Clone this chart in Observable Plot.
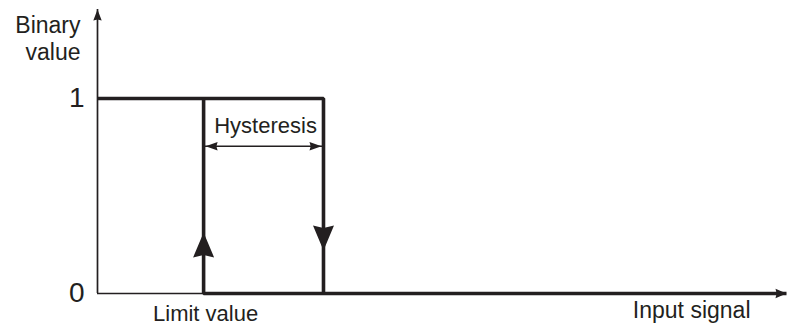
<!DOCTYPE html>
<html><head><meta charset="utf-8">
<script src="https://cdn.jsdelivr.net/npm/d3@7"></script>
<script src="https://cdn.jsdelivr.net/npm/@observablehq/plot@0.6"></script>
<style>
html,body{margin:0;padding:0;background:#fff;}
#chart{width:790px;height:329px;}
</style></head><body><div id="chart"></div>
<script>
// ---- data ----
const binaryLevels = [0, 1];
const levelLabels = ["0", "1"];
const inputMax = 10;          // end of the input-signal axis
const yMax = 1.456;           // top of the binary-value axis
const limitValue = 1.54;      // switch-on point (rising signal)
const upperValue = 3.28;      // switch-off point (falling signal)
const hysteresisLevel = 0.755;
const upArrowTip = 0.313;
const downArrowTip = 0.22;
const yTitle = "Binary\nvalue";
const xTitle = "Input signal";
const limitLabel = "Limit value";
const hysteresisLabel = "Hysteresis";

const ink = "#231f20";
const font = "'Liberation Sans', Arial, Helvetica, sans-serif";

// switching loop: upper branch (falling) and lower branch (rising)
const loop = [
  {x: 0, y: binaryLevels[1], branch: "falling"},
  {x: upperValue, y: binaryLevels[1], branch: "falling"},
  {x: upperValue, y: binaryLevels[0], branch: "falling"},
  {x: limitValue, y: binaryLevels[1], branch: "rising"},
  {x: limitValue, y: binaryLevels[0], branch: "rising"},
  {x: inputMax, y: binaryLevels[0], branch: "rising"}
];

const notched = {
  draw(ctx, l, r) {
    ctx.moveTo(0, -l);
    ctx.lineTo(r, 0);
    ctx.lineTo(0, -l * 0.1);
    ctx.lineTo(-r, 0);
    ctx.closePath();
  }
};
const head = (x, y, rotate, length, r, dx = 0) =>
  Plot.vector([0], {x: () => x, y: () => y, rotate, length, r, dx, anchor: "end",
    shape: notched, fill: ink, stroke: "none"});

const chart = Plot.plot({
  width: 790,
  height: 329,
  marginLeft: 97,
  marginRight: 4,
  marginTop: 9,
  marginBottom: 36,
  style: {fontFamily: font, fontSize: "28px", color: ink, background: "#fff"},
  x: {domain: [0, inputMax], axis: null},
  y: {domain: [0, yMax], ticks: binaryLevels, tickFormat: (d) => levelLabels[binaryLevels.indexOf(d)],
      tickSize: 0, tickPadding: 13, label: null},
  marks: [
    // axes lines
    Plot.ruleX([0], {y1: 0, y2: yMax, stroke: ink, strokeWidth: 1.7}),
    Plot.ruleY([0], {x1: 0, x2: inputMax, stroke: ink, strokeWidth: 1.7}),
    // hysteresis loop
    Plot.line(loop, {x: "x", y: "y", z: "branch", stroke: ink, strokeWidth: 3.6,
      strokeLinejoin: "miter", strokeLinecap: "butt", curve: "linear"}),
    // hysteresis width arrow
    Plot.ruleY([hysteresisLevel], {x1: limitValue, x2: upperValue, stroke: ink, strokeWidth: 1.6}),
    head(limitValue, hysteresisLevel, -90, 12, 4.3, 2),
    head(upperValue, hysteresisLevel, 90, 12, 4.3, -2),
    // direction arrows
    head(limitValue, upArrowTip, 0, 25, 10.5),
    head(upperValue, downArrowTip, 180, 25, 10.5),
    // axis arrowheads
    head(0, yMax, 0, 11, 4.2),
    head(inputMax, 0, 90, 11, 4.8),
    // labels
    Plot.text([yTitle], {x: () => 0, y: () => yMax, text: (d) => d, textAnchor: "end", lineAnchor: "top",
      dx: -17, dy: 4, fontSize: 23, lineHeight: 1.18, fill: ink}),
    Plot.text([hysteresisLabel], {x: () => (limitValue + upperValue) / 2, y: () => binaryLevels[1], text: (d) => d,
      textAnchor: "middle", lineAnchor: "top", dx: 2, dy: 19, fontSize: 22, fill: ink}),
    Plot.text([limitLabel], {x: () => limitValue, y: () => binaryLevels[0], text: (d) => d,
      textAnchor: "middle", lineAnchor: "top", dx: 2, dy: 12, fontSize: 22, fill: ink}),
    Plot.text([xTitle], {x: () => inputMax, y: () => binaryLevels[0], text: (d) => d,
      textAnchor: "end", lineAnchor: "top", dx: -36, dy: 8, fontSize: 23, fill: ink})
  ]
});
document.getElementById("chart").appendChild(chart);
</script>
</body></html>
